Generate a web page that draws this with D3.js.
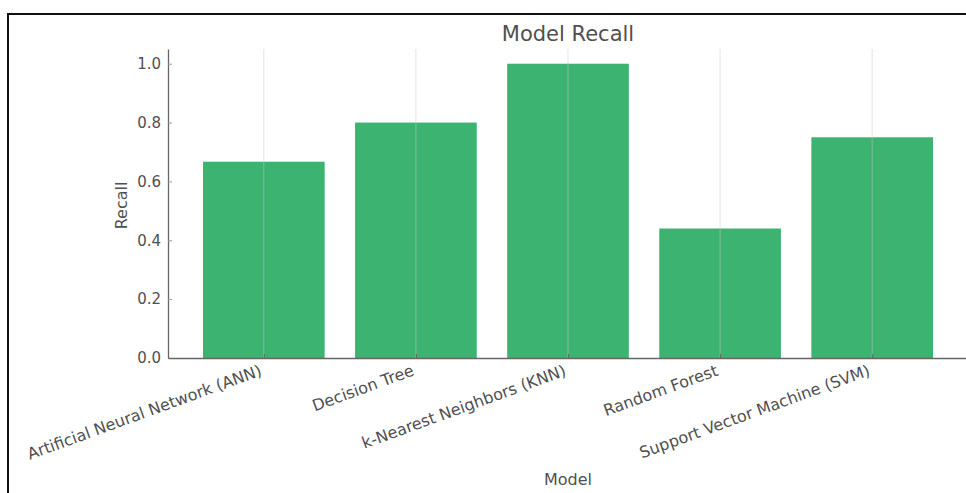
<!DOCTYPE html>
<html>
<head>
<meta charset="utf-8">
<script src="https://cdn.jsdelivr.net/npm/d3@7"></script>
<style>
  html, body { margin: 0; padding: 0; background: #fff; }
  svg { display: block; }
  text { font-family: "DejaVu Sans", sans-serif; fill: #505050; }
</style>
</head>
<body>
<svg id="chart" width="966" height="493"></svg>
<script>
// Recall per classification model
const models = [
  "Artificial Neural Network (ANN)",
  "Decision Tree",
  "k-Nearest Neighbors (KNN)",
  "Random Forest",
  "Support Vector Machine (SVM)"
];
const recall = [0.667, 0.8, 1.0, 0.44, 0.75];
const yTicks = [0.0, 0.2, 0.4, 0.6, 0.8, 1.0];

const svg = d3.select("#chart");
const W = 966, H = 493;

// outer frame (top and left edges visible)
svg.append("line").attr("x1", 8).attr("x2", W).attr("y1", 14).attr("y2", 14)
  .attr("stroke", "#111").attr("stroke-width", 2);
svg.append("line").attr("x1", 8).attr("x2", 8).attr("y1", 13).attr("y2", H)
  .attr("stroke", "#111").attr("stroke-width", 2);

const plot = { left: 168, right: 968, top: 49, bottom: 358 };

const x = d3.scaleLinear().domain([-0.63, models.length - 1 + 0.63])
  .range([plot.left, plot.right]);
const y = d3.scaleLinear().domain([0, 1.05]).range([plot.bottom, plot.top]);
const barW = x(0.8) - x(0);

// bars
svg.append("g").selectAll("rect").data(recall).join("rect")
  .attr("x", (d, i) => x(i) - barW / 2)
  .attr("y", d => y(d))
  .attr("width", barW)
  .attr("height", d => y(0) - y(d))
  .attr("fill", "#3cb371");

// vertical grid lines at each category
svg.append("g").selectAll("line").data(models).join("line")
  .attr("x1", (d, i) => x(i)).attr("x2", (d, i) => x(i))
  .attr("y1", plot.top).attr("y2", plot.bottom)
  .attr("stroke", "#c8c8c8").attr("stroke-opacity", 0.5).attr("stroke-width", 1);

// y axis
const yAxis = svg.append("g").attr("transform", `translate(${plot.left},0)`)
  .call(d3.axisLeft(y).tickValues(yTicks).tickFormat(d3.format(".1f"))
    .tickSizeInner(-4).tickSizeOuter(0).tickPadding(7));
yAxis.select(".domain").attr("stroke", "#666").attr("stroke-width", 1.3);
yAxis.selectAll(".tick line").attr("stroke", "#999");
yAxis.selectAll(".tick text").attr("fill", "#505050").style("font-size", "15px")
  .style("font-family", "'DejaVu Sans', sans-serif");

// x axis
const xAxis = svg.append("g").attr("transform", `translate(0,${plot.bottom})`)
  .call(d3.axisBottom(x).tickValues(d3.range(models.length)).tickFormat(() => "")
    .tickSizeInner(-4).tickSizeOuter(0));
xAxis.select(".domain").attr("stroke", "#666").attr("stroke-width", 1.3);
xAxis.selectAll(".tick line").attr("stroke", "#666");

// rotated category labels, right end anchored under each tick
svg.append("g").selectAll("text").data(models).join("text")
  .attr("transform", (d, i) => `translate(${x(i) - 1},${plot.bottom + 17}) rotate(-20)`)
  .attr("text-anchor", "end")
  .style("font-size", "16px")
  .text(d => d);

// axis titles
svg.append("text")
  .attr("transform", `translate(127,${(plot.top + plot.bottom) / 2 + 2}) rotate(-90)`)
  .attr("text-anchor", "middle").style("font-size", "16px").text("Recall");
svg.append("text").attr("x", (plot.left + plot.right) / 2).attr("y", 485)
  .attr("text-anchor", "middle").style("font-size", "16px").text("Model");

// chart title
svg.append("text").attr("x", (plot.left + plot.right) / 2).attr("y", 41)
  .attr("text-anchor", "middle").style("font-size", "21px").text("Model Recall");
</script>
</body>
</html>
